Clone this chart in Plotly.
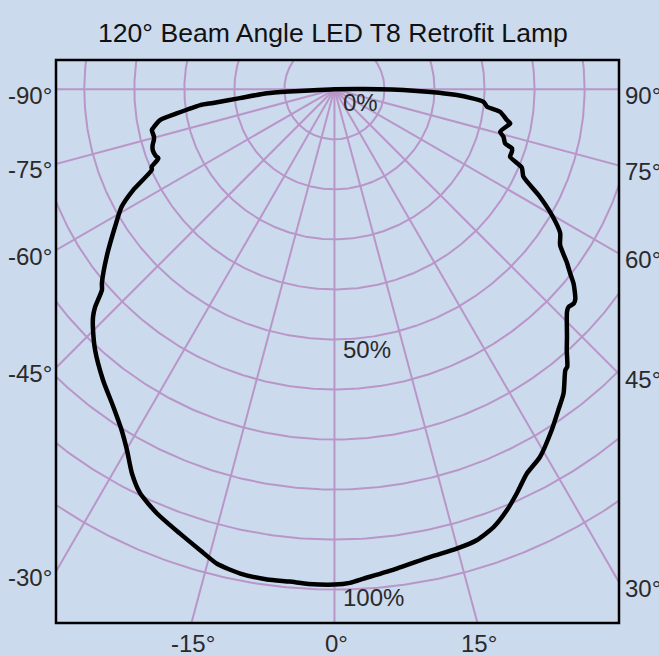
import numpy as np
import plotly.graph_objects as go

# ---- data (angle in degrees from nadir, relative intensity in %) ----
theta_deg = [-90, -87.5, -87.2, -86.6, -84.7, -83.6, -83.3, -81.3, -80.0, -77.9,
             -77.4, -75.3, -74.3, -73.0, -71.5, -69.5, -68.6, -67.0, -66.2, -63.4,
             -61.1, -57.9, -53.7, -50.2, -49.2, -47.7, -46.7, -45.5, -42.5, -38.5,
             -34.9, -32.0, -29.9, -27.8, -25.7, -22.7, -19.2,
             -16.2, -13.9, -11.0, -7.8, -5.2, -3.0, 0.0,
             1.8, 3.4, 7.4, 11.6, 14.9, 17.5,
             20.0, 22.3, 24.3, 26.6, 29.2, 32.5, 34.9,
             37.0, 39.4, 40.0, 41.7, 43.2, 45.6, 46.3, 47.1, 48.2, 49.0,
             50.9, 52.0, 53.2, 55.4, 57.5, 59.9, 62.6, 65.2, 67.3, 69.0,
             70.6, 71.6, 72.4, 74.3, 75.6, 78.4, 79.0, 79.9, 82.3, 83.5,
             85.2, 87.3, 89.0, 90.5, 90]
intensity = [0, 5, 9, 13.5, 19, 24.4, 27, 31.9, 35.4, 37.1,
             37.4, 37.3, 37.5, 38.0, 38.3, 38.1, 37.8, 39.7, 39.9, 45.0,
             48.6, 51.8, 56.5, 60.5, 61.4, 64.7, 66.3, 67.7, 70.8, 74.3,
             77.3, 80.3, 83.2, 86.8, 89.6, 91.9, 94.0,
             96.0, 97.7, 98.6, 98.9, 98.8, 99.0, 99.0,
             98.7, 98.0, 96.6, 95.4, 95.0, 94.5,
             93.1, 90.9, 88.6, 85.9, 84.2, 80.8, 78.2,
             76.1, 72.7, 72.4, 69.8, 67.9, 65.0, 64.3, 63.9, 64.2, 63.8,
             61.6, 59.8, 58.1, 54.8, 53.5, 50.3, 46.0, 41.6, 40.6, 37.6,
             37.6, 37.4, 35.8, 35.1, 34.2, 35.5, 35.8, 35.0, 33.4, 30.7,
             29.9, 24.5, 15.8, 6, 0]

ring_levels = [10, 20, 30, 40, 50, 60, 70, 80, 90, 100]
spoke_angles = [-90, -75, -60, -45, -30, -15, 0, 15, 30, 45, 60, 75, 90]
left_labels = [-90, -75, -60, -45, -30]
right_labels = [90, 75, 60, 45, 30]
bottom_labels = [-15, 0, 15]
pct_labels = [0, 50, 100]
title_text = "120° Beam Angle LED T8 Retrofit Lamp"

# ---- view window (in % units) ----
XMIN, XMAX, YMIN, YMAX = -55.66, 56.88, -106.68, 5.86

BG = "#ccdaee"
GRID = "#b996c8"
TXT = "#2a2a2a"
FONT = "Liberation Sans, Arial, sans-serif"

fig = go.Figure()

# rings
t = np.linspace(0, 2 * np.pi, 721)
rx, ry = [], []
for r in ring_levels:
    rx += list(r * np.cos(t)) + [None]
    ry += list(r * np.sin(t)) + [None]
fig.add_trace(go.Scatter(x=rx, y=ry, mode="lines",
                         line=dict(color=GRID, width=2),
                         hoverinfo="skip", showlegend=False))

# spokes
sx, sy = [], []
L = 200
for a in spoke_angles:
    ar = np.radians(a)
    sx += [0, L * np.sin(ar), None]
    sy += [0, -L * np.cos(ar), None]
fig.add_trace(go.Scatter(x=sx, y=sy, mode="lines",
                         line=dict(color=GRID, width=2),
                         hoverinfo="skip", showlegend=False))

# intensity curve
th = np.radians(np.array(theta_deg))
r = np.array(intensity)
fig.add_trace(go.Scatter(x=r * np.sin(th), y=-r * np.cos(th), mode="lines",
                         line=dict(color="black", width=4.5, shape="spline", smoothing=0.6),
                         hoverinfo="skip", showlegend=False))

ann = []
for a in left_labels:
    ar = np.radians(a)
    tt = XMIN / np.sin(ar)
    y = -tt * np.cos(ar)
    ann.append(dict(x=XMIN, y=y, xref="x", yref="y", text=f"{a}°", showarrow=False,
                    xanchor="right", yanchor="middle", xshift=-2, yshift=-6,
                    font=dict(size=24, color=TXT, family=FONT)))
for a in right_labels:
    ar = np.radians(a)
    tt = XMAX / np.sin(ar)
    y = -tt * np.cos(ar)
    ann.append(dict(x=XMAX, y=y, xref="x", yref="y", text=f"{a}°", showarrow=False,
                    xanchor="left", yanchor="middle", xshift=4, yshift=-6,
                    font=dict(size=24, color=TXT, family=FONT)))
for a in bottom_labels:
    ar = np.radians(a)
    tt = YMIN / (-np.cos(ar))
    x = tt * np.sin(ar)
    ann.append(dict(x=x, y=YMIN, xref="x", yref="y", text=f"{a}°", showarrow=False,
                    xanchor="center", yanchor="top", xshift=2, yshift=-5,
                    font=dict(size=24, color=TXT, family=FONT)))
pct_shift = [-13, -10, -8]
for p, s in zip(pct_labels, pct_shift):
    ann.append(dict(x=0, y=-p, xref="x", yref="y", text=f"{p}%", showarrow=False,
                    xanchor="left", yanchor="middle", xshift=7, yshift=s,
                    font=dict(size=24, color=TXT, family=FONT)))
ann.append(dict(x=(333 - 56) / 563, y=1, xref="paper", yref="paper", yshift=27,
                text=title_text, showarrow=False, xanchor="center", yanchor="middle",
                font=dict(size=26.6, color="#111111", family=FONT)))

fig.update_layout(
    width=659, height=656,
    margin=dict(l=56, r=40, t=60, b=33),
    paper_bgcolor=BG, plot_bgcolor=BG,
    xaxis=dict(range=[XMIN, XMAX], visible=False, fixedrange=True),
    yaxis=dict(range=[YMIN, YMAX], visible=False, fixedrange=True),
    annotations=ann,
    shapes=[dict(type="rect", xref="paper", yref="paper", x0=0, y0=0, x1=1, y1=1,
                 line=dict(color="black", width=2.5), layer="above")],
    showlegend=False,
)

fig.write_html("out.html", config={"displayModeBar": False},
               post_script="document.body.style.margin='0';document.body.style.padding='0';"
                           "document.body.style.background='" + BG + "';")
